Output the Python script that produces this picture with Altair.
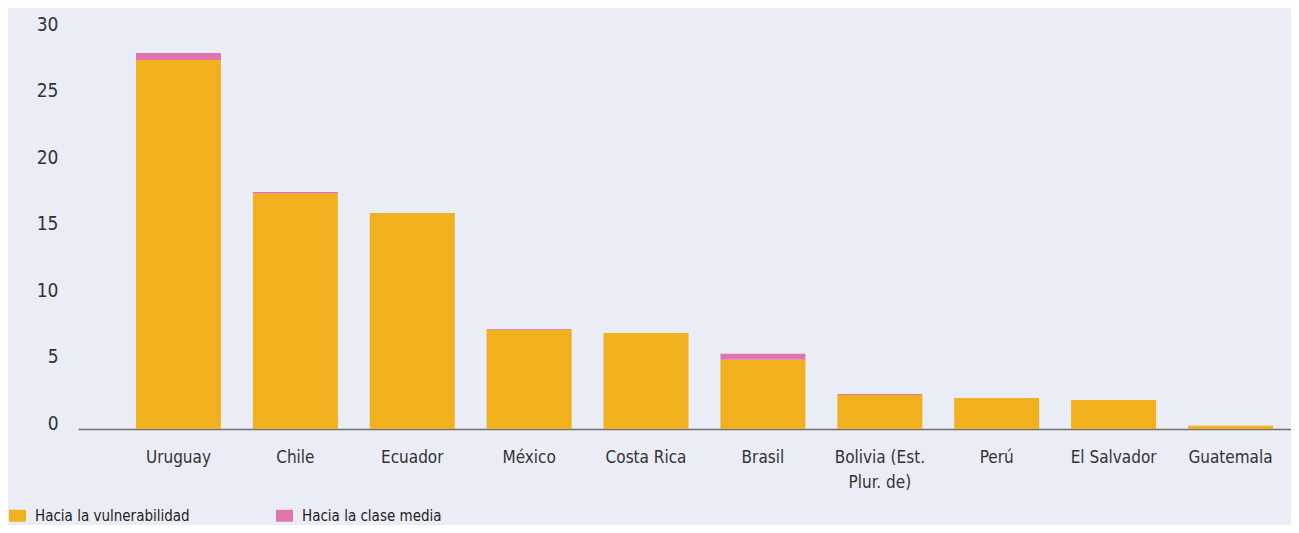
import altair as alt
import pandas as pd

countries = ["Uruguay", "Chile", "Ecuador", "México", "Costa Rica", "Brasil",
             "Bolivia (Est. Plur. de)", "Perú", "El Salvador", "Guatemala"]
hacia_vulnerabilidad = [27.75, 17.7, 16.25, 7.47, 7.22, 5.2, 2.55, 2.33, 2.18, 0.25]
hacia_clase_media = [0.52, 0.12, 0.0, 0.05, 0.0, 0.45, 0.08, 0.0, 0.0, 0.0]
series = ["Hacia la vulnerabilidad", "Hacia la clase media"]
colors = ["#F1B01E", "#E074AC"]

rows = []
for c, v, m in zip(countries, hacia_vulnerabilidad, hacia_clase_media):
    rows.append({"pais": c, "serie": series[0], "valor": v, "orden": 0})
    rows.append({"pais": c, "serie": series[1], "valor": m, "orden": 1})
df = pd.DataFrame(rows)

FONT = "Liberation Sans Narrow, DejaVu Sans Condensed, Roboto, sans-serif"

chart = alt.Chart(df).mark_bar().encode(
    x=alt.X("pais:N", sort=countries, title=None,
            scale=alt.Scale(paddingInner=0.273, paddingOuter=0.325, align=0.763),
            axis=alt.Axis(labelAngle=0, labelFontSize=17, labelColor="#333333",
                          labelFont=FONT, ticks=False, domainColor="#6f6f6f",
                          domainWidth=1.5, labelPadding=20, labelLineHeight=25,
                          labelBaseline="top",
                          labelExpr="datum.value == 'Bolivia (Est. Plur. de)' ? ['Bolivia (Est.', 'Plur. de)'] : datum.value")),
    y=alt.Y("valor:Q", stack="zero", title=None,
            scale=alt.Scale(domain=[0, 30]),
            axis=alt.Axis(values=[0, 5, 10, 15, 20, 25, 30], grid=False, domain=False,
                          ticks=False, labelFontSize=19, labelColor="#333333",
                          labelFont=FONT, labelBaseline="alphabetic", labelPadding=20)),
    color=alt.Color("serie:N", sort=series,
                    scale=alt.Scale(domain=series, range=colors),
                    legend=alt.Legend(title=None, orient="none", legendX=-69, legendY=477,
                                      direction="horizontal", columns=2, columnPadding=86,
                                      symbolType="M-1,-0.7L1,-0.7L1,0.7L-1,0.7Z",
                                      symbolSize=289, symbolStrokeWidth=0,
                                      labelFontSize=15, labelFont=FONT,
                                      labelColor="#222222", labelOffset=9)),
    order=alt.Order("orden:Q", sort="ascending"),
).properties(
    width=1213, height=399,
    autosize=alt.AutoSizeParams(type="none"),
    padding={"left": 70, "top": 22, "right": 0, "bottom": 96},
    background="#EAEDF6",
).configure_view(stroke=None, fill="#EAEDF6")

chart.save("out.html", embed_options={"renderer": "svg", "actions": False})
